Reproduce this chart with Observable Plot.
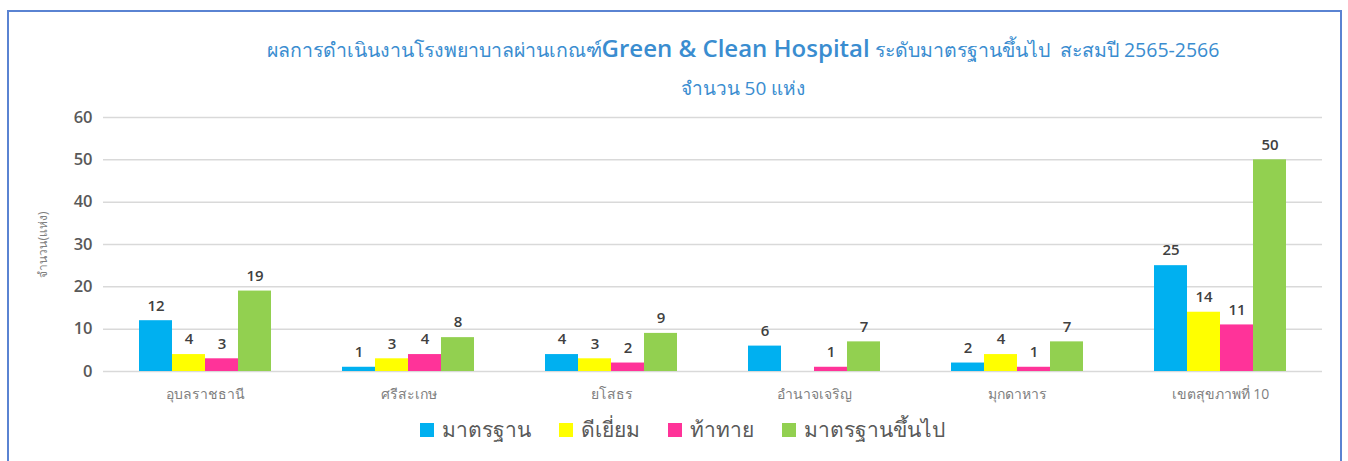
<!DOCTYPE html>
<html>
<head>
<meta charset="utf-8">
<script src="https://cdn.jsdelivr.net/npm/d3@7"></script>
<script src="https://cdn.jsdelivr.net/npm/@observablehq/plot@0.6"></script>
<style>
  html, body { margin: 0; padding: 0; background: #fff; overflow: hidden; }
  body { width: 1348px; height: 461px; position: relative; font-family: "Open Sans", "Noto Sans", sans-serif; }
  #frame { position: absolute; left: 7px; top: 10px; width: 1331px; height: 470px; border: 2px solid #5A83D2; box-sizing: content-box; }
  .layer { position: absolute; left: 0; top: 0; }
  #title { position: absolute; left: 243px; width: 1000px; top: 31px; text-align: center; color: #3A8DD0; font-size: 19.5px; white-space: nowrap; }
  #title .en { font-size: 24px; font-weight: 600; }
  #subtitle { position: absolute; left: 243px; width: 1000px; top: 73px; text-align: center; color: #3A8DD0; font-size: 19px; }
  #legend { position: absolute; left: 0; width: 1364px; top: 413px; display: flex; justify-content: center; gap: 28px; color: #595959; font-size: 21px; }
  #legend .item { display: flex; align-items: center; gap: 8px; }
  #legend .sw { width: 14px; height: 14px; display: inline-block; }
</style>
</head>
<body>
<div id="frame"></div>
<div id="bg" class="layer"></div>
<div id="fg" class="layer"></div>
<div id="title">ผลการดำเนินงานโรงพยาบาลผ่านเกณฑ์<span class="en">Green &amp; Clean Hospital</span> ระดับมาตรฐานขึ้นไป&nbsp; สะสมปี 2565-2566</div>
<div id="subtitle">จำนวน 50 แห่ง</div>
<div id="legend"></div>
<script>
const regions = ["อุบลราชธานี", "ศรีสะเกษ", "ยโสธร", "อำนาจเจริญ", "มุกดาหาร", "เขตสุขภาพที่ 10"];
const seriesNames = ["มาตรฐาน", "ดีเยี่ยม", "ท้าทาย", "มาตรฐานขึ้นไป"];
const seriesColors = ["#00B0F0", "#FFFF00", "#FF3399", "#92D050"];
const standard = [12, 1, 4, 6, 2, 25];
const excellent = [4, 3, 3, 0, 4, 14];
const challenge = [3, 4, 2, 1, 1, 11];
const standardUp = [19, 8, 9, 7, 7, 50];
const yTicks = [0, 10, 20, 30, 40, 50, 60];
const yLabel = "จำนวน(แห่ง)";

const seriesValues = [standard, excellent, challenge, standardUp];
const data = [];
regions.forEach((r, i) => {
  seriesNames.forEach((s, j) => data.push({region: r, series: s, value: seriesValues[j][i]}));
});

const W = 1348, H = 461;
const common = {
  width: W, height: H,
  marginLeft: 103, marginRight: 26, marginTop: 117, marginBottom: 90,
};

// background: grid and y axis
const bg = Plot.plot({
  ...common,
  style: {background: "transparent", fontFamily: "'Open Sans', 'Noto Sans', sans-serif", fontSize: "16.5px", color: "#595959", fontWeight: "600"},
  y: {domain: [0, 60], ticks: yTicks, tickSize: 0, tickPadding: 11, label: null},
  x: {axis: null},
  marks: [
    Plot.ruleY(yTicks, {stroke: "#D9D9D9", strokeWidth: 1.5}),
    Plot.text([yLabel], {frameAnchor: "left", dx: -60, rotate: -90, textAnchor: "middle", text: d => d, fontSize: 12, fill: "#7F7F7F", fontWeight: "normal"})
  ]
});
document.getElementById("bg").appendChild(bg);

// foreground: bars, labels, categories
const fg = Plot.plot({
  ...common,
  style: {background: "transparent", fontFamily: "'Open Sans', 'Noto Sans', sans-serif"},
  fx: {domain: regions, paddingInner: 0.35, paddingOuter: 0.175, axis: null, label: null},
  x: {domain: seriesNames, padding: 0, axis: null},
  y: {domain: [0, 60], axis: null},
  color: {domain: seriesNames, range: seriesColors},
  facet: {data: data, x: "region"},
  marks: [
    Plot.barY(data, {fx: "region", x: "series", y: "value", fill: "series"}),
    Plot.text(data.filter(d => d.value > 0), {fx: "region", x: "series", y: "value", text: d => String(d.value), dy: -15, fontSize: 15, fontWeight: "600", fill: "#404040"}),
    Plot.text(regions, {fx: d => d, frameAnchor: "bottom", dy: 27, text: d => d, fontSize: 14, fill: "#7F7F7F"})
  ]
});
document.getElementById("fg").appendChild(fg);

const legend = document.getElementById("legend");
seriesNames.forEach((s, j) => {
  const it = document.createElement("div");
  it.className = "item";
  const sw = document.createElement("span");
  sw.className = "sw";
  sw.style.background = seriesColors[j];
  const tx = document.createElement("span");
  tx.textContent = s;
  it.appendChild(sw); it.appendChild(tx);
  legend.appendChild(it);
});
</script>
</body>
</html>
